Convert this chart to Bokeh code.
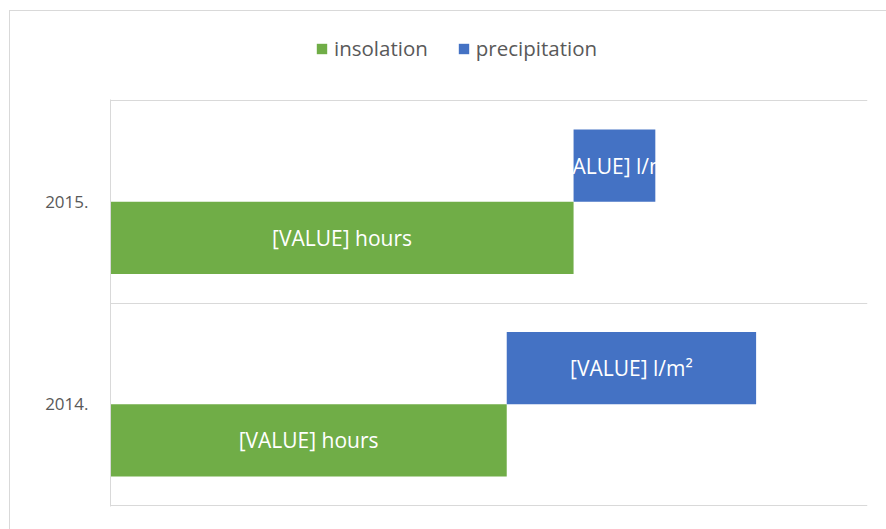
from bokeh.plotting import figure
from bokeh.layouts import column
from bokeh.models import ColumnDataSource, Legend, LegendItem, FixedTicker, Range1d
from bokeh.core.properties import value
from bokeh.embed import file_html
from bokeh.resources import INLINE

years = ["2014.", "2015."]
insolation = [1832, 2141]          # hours
precipitation = [1153, 378]        # l/m2
ins_labels = ["[VALUE] hours", "[VALUE] hours"]
pre_labels = ["[VALUE] l/m²", "[VALUE] l/m²"]

GREEN = "#70ad47"
BLUE = "#4472c4"
GRAY = "#595959"
LINE = "#d9d9d9"
FONT = "Open Sans"

pos = [0.5, 1.5]
bh = 0.357
ins_y = [c - bh / 2 for c in pos]
pre_y = [c + bh / 2 for c in pos]

src = ColumnDataSource(dict(
    y_ins=ins_y, y_pre=pre_y,
    ins=insolation, pre=precipitation,
    ins_mid=[v / 2 for v in insolation],
    pre_left=insolation,
    pre_right=[a + b for a, b in zip(insolation, precipitation)],
    pre_mid=[a + b / 2 for a, b in zip(insolation, precipitation)],
    ins_lab=ins_labels, pre_lab=pre_labels,
))

# ---- main chart ----
p = figure(width=876, height=430, output_backend="svg", toolbar_location=None,
           x_range=Range1d(0, 3500), y_range=Range1d(-0.005, 2.005),
           min_border_left=100, min_border_right=19, min_border_top=0, min_border_bottom=23)

p.hbar(y="y_ins", left=0, right="ins", height=bh, source=src,
       fill_color=GREEN, line_color=None)
p.hbar(y="y_pre", left="pre_left", right="pre_right", height=bh, source=src,
       fill_color=BLUE, line_color=None)

p.text(x="ins_mid", y="y_ins", text="ins_lab", source=src, text_color="white",
       text_font=value(FONT), text_font_size="21px", text_align="center",
       text_baseline="middle")
p.text(x="pre_mid", y="y_pre", text="pre_lab", source=src, text_color="white",
       text_font=value(FONT), text_font_size="21px", text_align="center",
       text_baseline="middle")

p.xaxis.visible = False
p.xgrid.visible = False
p.ygrid.ticker = FixedTicker(ticks=[0, 1, 2])
p.ygrid.grid_line_color = LINE
p.yaxis.ticker = FixedTicker(ticks=pos)
p.yaxis.major_label_overrides = {0.5: years[0], 1.5: years[1]}
p.yaxis.major_tick_line_color = None
p.yaxis.minor_tick_line_color = None
p.yaxis.axis_line_color = LINE
p.yaxis.major_label_standoff = 16
p.yaxis.major_label_text_font = FONT
p.yaxis.major_label_text_font_size = "17px"
p.yaxis.major_label_text_color = GRAY
p.outline_line_color = None

# ---- legend strip above the chart (its ranges keep the proxy bars out of view) ----
lg = figure(width=876, height=88, output_backend="svg", toolbar_location=None,
            x_range=Range1d(-2, -1), y_range=Range1d(100, 101),
            x_axis_location=None, y_axis_location=None,
            min_border_left=0, min_border_right=0, min_border_top=0, min_border_bottom=0)
lg.grid.visible = False
lg.outline_line_color = None
l_ins = lg.hbar(y="y_ins", left=0, right="ins", height=bh, source=src,
                fill_color=GREEN, line_color=None)
l_pre = lg.hbar(y="y_pre", left="pre_left", right="pre_right", height=bh, source=src,
                fill_color=BLUE, line_color=None)

legend = Legend(items=[LegendItem(label="insolation", renderers=[l_ins]),
                       LegendItem(label="precipitation", renderers=[l_pre])],
                orientation="horizontal", location=(205, 37),
                label_text_font=FONT, label_text_font_size="20.5px",
                label_text_color=GRAY, glyph_width=13, glyph_height=13,
                label_standoff=6, spacing=29, border_line_color=None,
                background_fill_alpha=0, margin=0, padding=0)
lg.add_layout(legend, "center")

layout = column(lg, p, spacing=0,
                styles={"border-left": f"1px solid {LINE}", "border-top": f"1px solid {LINE}",
                        "margin-left": "9px", "margin-top": "10px"})

open("out.html", "w").write(file_html(layout, INLINE))
